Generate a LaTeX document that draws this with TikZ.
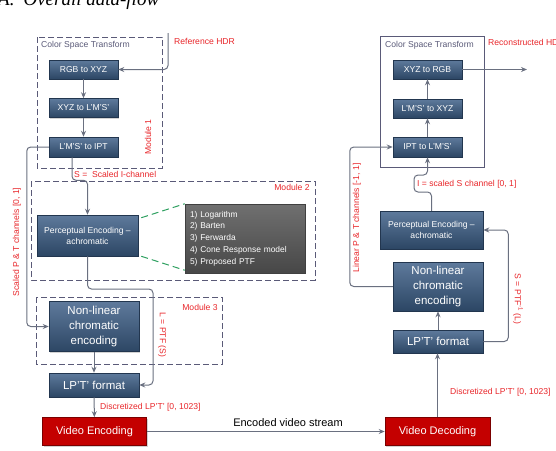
\documentclass[tikz,border=0pt]{standalone}
\usepackage{fontspec}
\setmainfont{Liberation Sans}
\newfontfamily\titlefont{Liberation Serif}
\usetikzlibrary{arrows.meta,shadows,calc}
\definecolor{boxtop}{HTML}{5E7A9C}
\definecolor{boxbot}{HTML}{2C4664}
\definecolor{boxline}{HTML}{22364F}
\definecolor{redfill}{HTML}{C40000}
\definecolor{redline}{HTML}{7A0000}
\definecolor{lbl}{HTML}{E8262A}
\definecolor{conn}{HTML}{6A7080}
\definecolor{modline}{HTML}{5A5A78}
\definecolor{greendash}{HTML}{2EA060}
\definecolor{listtop}{HTML}{707070}
\definecolor{listbot}{HTML}{474747}
\tikzset{
  bluebox/.style={draw=boxline, line width=0.5pt, top color=boxtop, bottom color=boxbot,
    text=white, inner sep=0pt, align=center,
    drop shadow={opacity=0.35, shadow xshift=1pt, shadow yshift=-1.2pt}},
  smalltxt/.style={font=\fontsize{8.6}{11}\selectfont},
  bigtxt/.style={font=\fontsize{11.5}{14.8}\selectfont},
  redbox/.style={draw=redline, line width=0.6pt, fill=redfill, text=white, inner sep=0pt,
    font=\fontsize{11}{13}\selectfont,
    drop shadow={opacity=0.35, shadow xshift=1pt, shadow yshift=-1.2pt}},
  listbox/.style={draw=black!75, line width=0.5pt, top color=listtop, bottom color=listbot,
    text=white, inner xsep=5pt, inner ysep=0pt, align=left, text width=110pt,
    font=\fontsize{8.4}{11.8}\selectfont,
    drop shadow={opacity=0.35, shadow xshift=1pt, shadow yshift=-1.2pt}},
  redlbl/.style={text=lbl, inner sep=0pt, font=\fontsize{8.6}{10}\selectfont},
  cstlbl/.style={text=modline, inner sep=0pt, font=\fontsize{8.6}{10}\selectfont},
  modframe/.style={draw=modline, line width=0.9pt, dash pattern=on 6pt off 3pt},
  cstframe/.style={draw=modline, line width=0.8pt},
  arr/.style={draw=conn, line width=1pt, rounded corners=4pt, -{Stealth[length=6pt,width=5pt]}},
  greenln/.style={draw=greendash, line width=1pt, dash pattern=on 7pt off 4pt},
}
\begin{document}
\begin{tikzpicture}[x=1pt,y=-1pt]
\useasboundingbox (0,0) rectangle (556,450);
% title (cut at top)
\node[anchor=base west, inner sep=0pt, font=\titlefont\itshape\fontsize{19}{19}\selectfont] (title) at (-2,5.5) {A.\hspace{9pt}Overall data-flow};

% frames
\draw[modframe] (37,37) rectangle (162,168);
\draw[modframe] (31,181) rectangle (315,280);
\draw[modframe] (36,297) rectangle (222,364);
\draw[cstframe] (380,36) rectangle (484,167);

\node[cstlbl, anchor=west] (cstL) at (41,45) {Color Space Transform};
\node[cstlbl, anchor=west] (cstR) at (385,45) {Color Space Transform};
\node[redlbl, rotate=90] (m1) at (148,137) {Module 1};
\node[redlbl] (m2) at (292,187) {Module 2};
\node[redlbl] (m3) at (200,307) {Module 3};

% left column
\node[bluebox, smalltxt, minimum width=69pt, minimum height=19pt] (rgb) at (83.5,69.5) {RGB to XYZ};
\node[bluebox, smalltxt, minimum width=69pt, minimum height=19pt] (xyz) at (83.5,108) {XYZ to L’M’S’};
\node[bluebox, smalltxt, minimum width=69pt, minimum height=20pt] (lms) at (83.5,147) {L’M’S’ to IPT};
\node[bluebox, smalltxt, minimum width=101pt, minimum height=41pt] (percL) at (87.5,235.5) {Perceptual Encoding –\\achromatic};
\node[listbox, minimum height=69pt] (list) at (245,238.5) {1) Logarithm\\2) Barten\\3) Ferwarda\\4) Cone Response model\\5) Proposed PTF};
\node[bluebox, bigtxt, minimum width=90pt, minimum height=50pt] (nonlinL) at (94,326.5) {Non-linear\\chromatic\\encoding};
\node[bluebox, bigtxt, minimum width=90pt, minimum height=24pt] (lptL) at (94,385) {LP’T’ format};
\node[redbox, minimum width=104pt, minimum height=28pt] (venc) at (94.5,431.5) {Video Encoding};

% right column
\node[bluebox, smalltxt, minimum width=69pt, minimum height=19pt] (xyzrgb) at (427.5,69.5) {XYZ to RGB};
\node[bluebox, smalltxt, minimum width=69pt, minimum height=19pt] (lmsxyz) at (427.5,108.5) {L’M’S’ to XYZ};
\node[bluebox, smalltxt, minimum width=69pt, minimum height=20pt] (ipt) at (427.5,147) {IPT to L’M’S’};
\node[bluebox, smalltxt, minimum width=103pt, minimum height=38pt] (percR) at (431.5,230) {Perceptual Encoding –\\achromatic};
\node[bluebox, bigtxt, minimum width=90pt, minimum height=49pt] (nonlinR) at (438,286.5) {Non-linear\\chromatic\\encoding};
\node[bluebox, bigtxt, minimum width=90pt, minimum height=23pt] (lptR) at (438,341.5) {LP’T’ format};
\node[redbox, minimum width=105pt, minimum height=28pt] (vdec) at (437.5,431.5) {Video Decoding};

% free ends
\coordinate (refin) at (168,33);
\coordinate (recout) at (527,69.5);

% left connectors
\draw[arr] (refin) |- (rgb.east);
\draw[arr] (rgb) -- (xyz);
\draw[arr] (xyz) -- (lms);
\draw[arr] ([xshift=-11.5pt]lms.south) -- ++(0,23) -| (percL.north);
\draw[arr] (lms.west) -| ([xshift=-22pt]nonlinL.west) -- (nonlinL.west);
\draw[arr] (percL.south) |- (153,289) |- (lptL.east);
\draw[arr] (nonlinL) -- (lptL);
\draw[arr] (lptL) -- (venc);
\draw[greenln] ($(percL.north east)+(3,3)$) -- (list.north west);
\draw[greenln] ($(percL.south east)+(3,0)$) -- ($(list.south west)+(0,-3)$);

% middle
\draw[arr] (venc.east) -- (vdec.west);
\node[inner sep=0pt, font=\fontsize{11}{13}\selectfont] (evs) at (288,423) {Encoded video stream};

% right connectors
\draw[arr] (vdec.north) -- (vdec.north |- lptR.south);
\draw[arr] (lptR) -- (nonlinR);
\draw[arr] (lptR.east) -| ([xshift=25pt]percR.east) -- (percR.east);
\draw[arr] (nonlinR.west) -| ([xshift=-43pt]ipt.west) -- (ipt.west);
\draw[arr] (percR.north) |- (414,192) |- (427.5,175) -- (ipt.south);
\draw[arr] (ipt) -- (lmsxyz);
\draw[arr] (lmsxyz) -- (xyzrgb);
\draw[arr] (xyzrgb.east) -- (recout);

% labels
\node[redlbl, anchor=west] (lref) at (174,41) {Reference HDR};
\node[redlbl, anchor=west] (lrec) at (488,42) {Reconstructed HDR};
\node[redlbl, anchor=west] (ls) at (74,174) {S =\ \ Scaled I-channel};
\node[redlbl, rotate=90] (lscaled) at (17,242) {Scaled P \& T channels [0, 1]};
\node[redlbl, rotate=-90] (lL) at (162,335) {L = PTF (S)};
\node[redlbl, anchor=west] (ldiscL) at (100,407.5) {Discretized LP’T’ [0, 1023]};
\node[redlbl, anchor=west] (ldiscR) at (450,392) {Discretized LP’T’ [0, 1023]};
\node[redlbl, anchor=west] (lI) at (417,184) {I = scaled S channel [0, 1]};
\node[redlbl, rotate=90] (llin) at (357,218) {Linear P \& T channels [-1, 1]};
\node[redlbl, rotate=-90] (lSinv) at (518,299) {S = PTF\textsuperscript{-1} (L)};
\end{tikzpicture}
\end{document}
